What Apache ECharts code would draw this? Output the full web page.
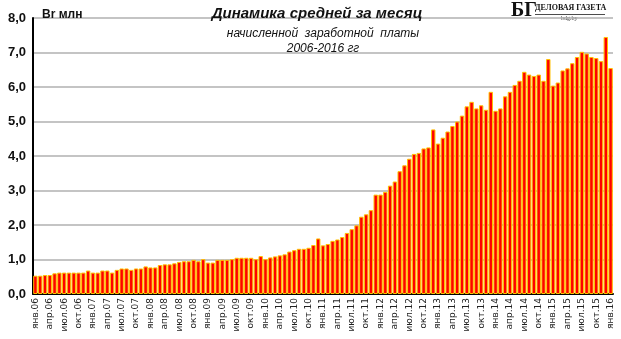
<!DOCTYPE html>
<html><head><meta charset="utf-8">
<script src="https://cdn.jsdelivr.net/npm/echarts@6/dist/echarts.min.js"></script>
<style>html,body{margin:0;padding:0;background:#fff}#c{width:621px;height:339px}</style>
</head><body><div id="c"></div>
<script>
const monthNames = ['янв','фев','мар','апр','май','июн','июл','авг','сен','окт','ноя','дек'];
const years = ['06','07','08','09','10','11','12','13','14','15','16'];
const v2006 = [0.53,0.53,0.55,0.55,0.60,0.62,0.62,0.62,0.62,0.62,0.62,0.68];
const v2007 = [0.62,0.62,0.68,0.68,0.62,0.70,0.74,0.74,0.70,0.74,0.74,0.80];
const v2008 = [0.77,0.77,0.84,0.86,0.86,0.89,0.93,0.95,0.95,0.99,0.95,1.01];
const v2009 = [0.91,0.91,0.99,0.99,0.99,1.01,1.05,1.05,1.05,1.05,1.01,1.10];
const v2010 = [1.01,1.06,1.09,1.12,1.15,1.23,1.27,1.31,1.31,1.34,1.42,1.61];
const v2011 = [1.41,1.45,1.54,1.58,1.65,1.77,1.88,1.99,2.24,2.31,2.43,2.88];
const v2012 = [2.88,2.96,3.14,3.26,3.56,3.73,3.92,4.06,4.09,4.22,4.25,4.77];
const v2013 = [4.36,4.53,4.71,4.87,5.00,5.17,5.44,5.57,5.38,5.47,5.34,5.86];
const v2014 = [5.31,5.38,5.73,5.86,6.06,6.18,6.44,6.36,6.32,6.36,6.18,6.81];
const v2015 = [6.04,6.13,6.48,6.54,6.69,6.87,7.02,6.97,6.87,6.84,6.75,7.45];
const v2016 = [6.55];
const values = [].concat(v2006,v2007,v2008,v2009,v2010,v2011,v2012,v2013,v2014,v2015,v2016);
const categories = [];
years.forEach(y => monthNames.forEach(m => categories.push(m + '.' + y)));
categories.length = values.length;

const chart = echarts.init(document.getElementById('c'));
chart.setOption({
  animation: false,
  backgroundColor: '#fff',
  title: [
    {text: 'Динамика средней за месяц', left: 312, top: 1, textAlign: 'center',
     textStyle: {fontFamily: 'Liberation Sans', fontSize: 15, fontWeight: 'bold', fontStyle: 'italic', color: '#111'}},
    {text: 'начисленной  заработной  платы', left: 318, top: 23, textAlign: 'center',
     textStyle: {fontFamily: 'Liberation Sans', fontSize: 12, fontWeight: 'normal', fontStyle: 'italic', color: '#111'}},
    {text: '2006-2016 гг', left: 318, top: 38, textAlign: 'center',
     textStyle: {fontFamily: 'Liberation Sans', fontSize: 12, fontWeight: 'normal', fontStyle: 'italic', color: '#111'}},
    {text: 'Br млн', left: 37, top: 4,
     textStyle: {fontFamily: 'Liberation Sans', fontSize: 12, fontWeight: 'bold', color: '#111'}}
  ],
  graphic: [
    {type: 'text', left: 511, top: 1, style: {text: 'БГ', font: 'bold 20px "Liberation Serif"', fill: '#111'}},
    {type: 'text', left: 535, top: 4, style: {text: 'ДЕЛОВАЯ ГАЗЕТА', font: 'bold 8px "Liberation Serif"', fill: '#111'}},
    {type: 'rect', shape: {x: 535, y: 14, width: 70, height: 0.8}, style: {fill: '#111'}},
    {type: 'text', left: 561, top: 15, style: {text: 'bdg.by', font: '6px "Liberation Serif"', fill: '#333'}}
  ],
  grid: {left: 33, right: 8, top: 18, bottom: 45, containLabel: false},
  xAxis: {
    type: 'category', data: categories,
    axisLine: {lineStyle: {color: '#000', width: 2}},
    axisTick: {show: false},
    axisLabel: {interval: 2, rotate: 90, fontSize: 9, fontFamily: 'DejaVu Sans', color: '#222', margin: 4}
  },
  yAxis: {
    type: 'value', min: 0, max: 8, interval: 1,
    axisLine: {show: true, lineStyle: {color: '#000', width: 2}},
    axisTick: {show: false},
    splitLine: {lineStyle: {color: '#b0b0b0', width: 1.5}},
    axisLabel: {formatter: v => v.toFixed(1).replace('.', ','), fontSize: 13, fontWeight: 'bold',
      fontFamily: 'Liberation Sans', color: '#111', margin: 7}
  },
  series: [{
    type: 'bar', data: values, barCategoryGap: '8%',
    itemStyle: {color: '#ff0000', borderColor: '#ffc000', borderWidth: 1}
  }]
});
</script></body></html>
